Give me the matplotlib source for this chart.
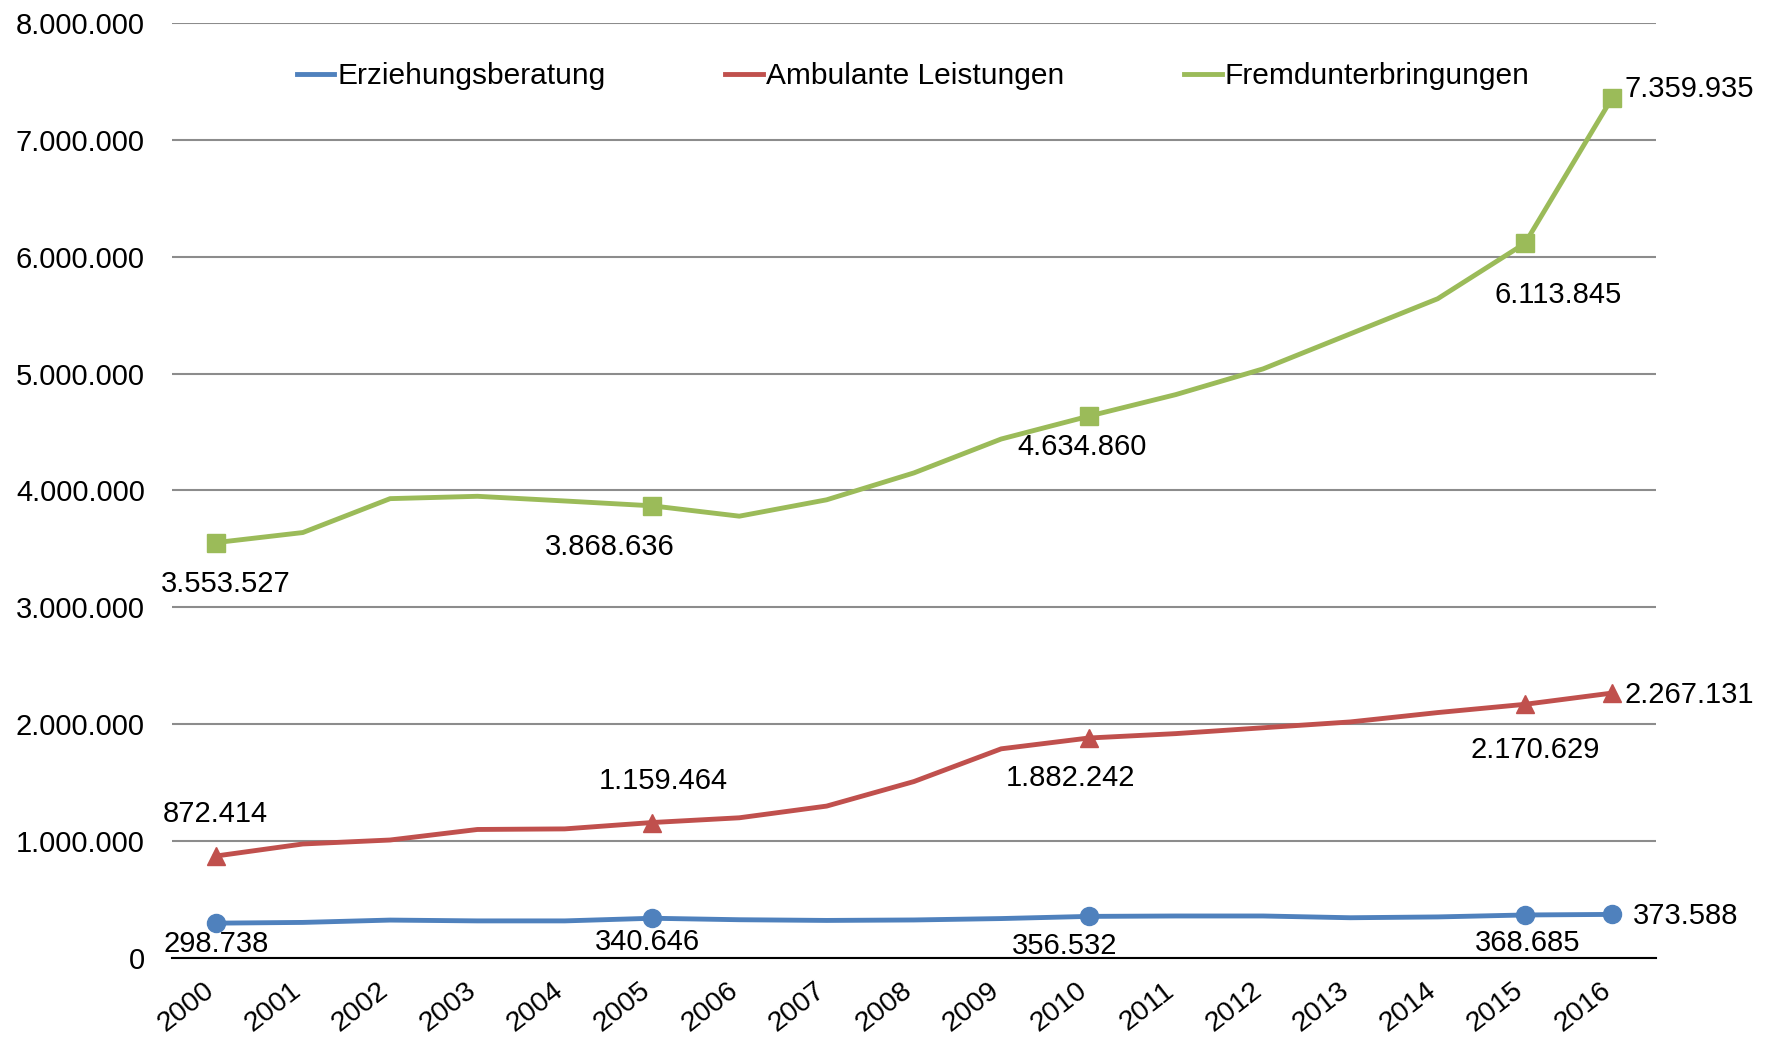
import matplotlib.pyplot as plt
import matplotlib.transforms as mtransforms
from matplotlib.ticker import FuncFormatter

plt.rcParams['font.family'] = ['Liberation Sans', 'DejaVu Sans']

# data
years = [str(y) for y in range(2000, 2017)]
erziehung = [298738, 305000, 325000, 318000, 318000, 340646, 328000, 322000, 326000,
             338000, 356532, 360000, 360000, 345000, 352000, 368685, 373588]
ambulant = [872414, 976000, 1010000, 1100000, 1105000, 1159464, 1200000, 1300000, 1510000,
            1790000, 1882242, 1920000, 1970000, 2020000, 2100000, 2170629, 2267131]
fremd = [3553527, 3640000, 3930000, 3950000, 3910000, 3868636, 3780000, 3920000, 4150000,
         4440000, 4634860, 4820000, 5040000, 5340000, 5640000, 6113845, 7359935]
marked = [0, 5, 10, 15, 16]

blue, red, green = '#4F81BD', '#C0504D', '#9BBB59'
fs = 21

# label offsets in pixels (dx, dy, ha) for the marked points
off_blue = [(1, -21, 'center'), (-5, -24, 'center'), (-24, -30, 'center'),
            (3, -28, 'center'), (21, -2, 'left')]
off_red = [(0, 42, 'center'), (11, 42, 'center'), (-18, -40, 'center'),
           (10, -46, 'center'), (12, -2, 'left')]
off_green = [(10, -41, 'center'), (-42, -41, 'center'), (-6, -31, 'center'),
             (33, -52, 'center'), (12, 9, 'left')]

fig = plt.figure(figsize=(17.72, 10.38), dpi=100)
ax = fig.add_axes([0.097, 0.077, 0.8375, 0.901])

x = list(range(len(years)))
series = [(erziehung, blue, 'o', 'Erziehungsberatung', off_blue),
          (ambulant, red, '^', 'Ambulante Leistungen', off_red),
          (fremd, green, 's', 'Fremdunterbringungen', off_green)]

for vals, col, mk, name, offs in series:
    ax.plot(x, vals, color=col, lw=3.5, label=name, zorder=3)
    ax.plot([x[i] for i in marked], [vals[i] for i in marked], linestyle='none',
            marker=mk, color=col, markersize=13, zorder=4)
    for i, (dx, dy, ha) in zip(marked, offs):
        ax.annotate(f'{vals[i]:,}'.replace(',', '.'), (x[i], vals[i]),
                    xytext=(dx, dy), textcoords='offset pixels',
                    ha=ha, va='center', fontsize=fs)

ax.set_xlim(-0.5, len(years) - 0.5)
ax.set_ylim(0, 8000000)
ax.set_yticks(range(0, 8000001, 1000000))
ax.yaxis.set_major_formatter(FuncFormatter(lambda v, p: f'{int(v):,}'.replace(',', '.')))
ax.set_xticks(x)
ax.set_xticklabels(years, rotation=38, ha='right', rotation_mode='anchor', fontsize=20.5)
ax.tick_params(axis='both', length=0)
ax.tick_params(axis='y', pad=19.5, labelsize=fs)
ax.tick_params(axis='x', pad=14)
shift = mtransforms.ScaledTranslation(-9 / 72, 0, fig.dpi_scale_trans)
for lbl in ax.get_xticklabels():
    lbl.set_transform(lbl.get_transform() + shift)

ax.grid(axis='y', color='#8c8c8c', lw=1.5, zorder=0)
for s in ['top', 'right', 'left']:
    ax.spines[s].set_visible(False)
ax.spines['bottom'].set_color('black')
ax.spines['bottom'].set_linewidth(1.5)

ax.legend(loc='center left', bbox_to_anchor=(0.084, 0.943), ncol=3, frameon=False,
          fontsize=21.5, handlelength=1.27, handletextpad=0.1, columnspacing=4.0,
          borderpad=0, borderaxespad=0)

fig.savefig('out.png', dpi=100)
